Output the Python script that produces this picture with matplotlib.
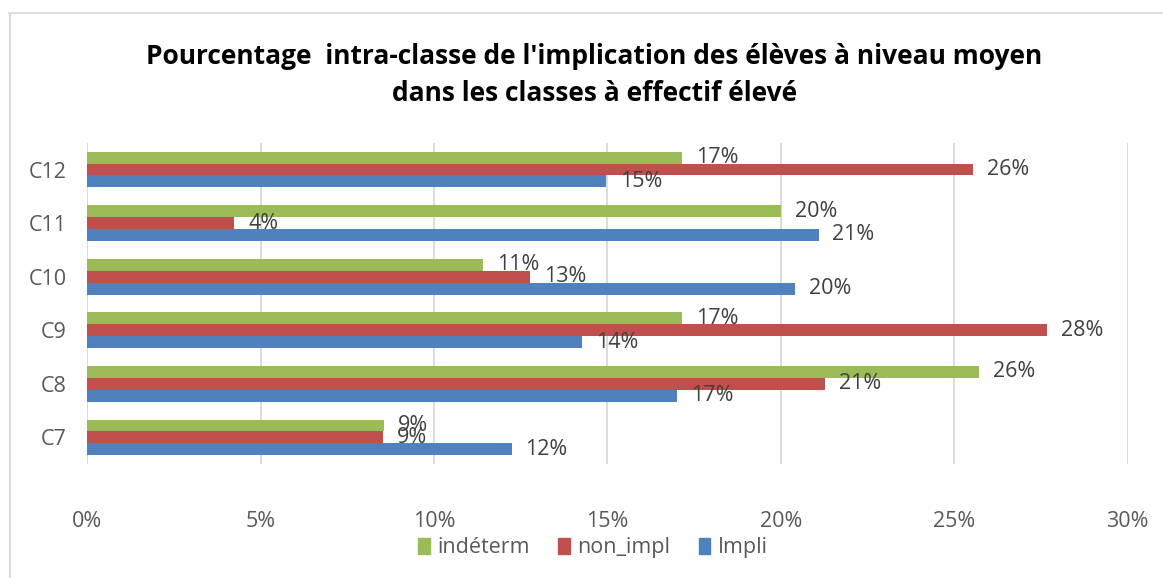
import numpy as np
import matplotlib.pyplot as plt
from matplotlib.lines import Line2D
from matplotlib.patches import Patch

# data (percent)
classes = ['C7', 'C8', 'C9', 'C10', 'C11', 'C12']
impli = [12.24, 17.02, 14.28, 20.41, 21.09, 14.97]
non_impl = [8.52, 21.28, 27.68, 12.76, 4.24, 25.55]
indeterm = [8.57, 25.73, 17.15, 11.42, 20.00, 17.15]

c_impli = '#4F81BD'
c_non = '#C0504D'
c_ind = '#9BBB59'
txt_col = '#404040'

plt.rcParams['font.family'] = ['Open Sans', 'DejaVu Sans']

fig = plt.figure(figsize=(11.63, 5.78), dpi=100)
ax = fig.add_axes([0.075, 0.197, 0.8945, 0.556])

y = np.arange(len(classes))
h = 0.222
ax.barh(y - h, impli, height=h, color=c_impli, zorder=3)
ax.barh(y, non_impl, height=h, color=c_non, zorder=3)
ax.barh(y + h, indeterm, height=h, color=c_ind, zorder=3)

# data labels
for vals, off in [(impli, -h), (non_impl, 0), (indeterm, h)]:
    for i, v in enumerate(vals):
        ax.text(v + 0.4, i + off, f'{round(v):.0f}%', va='center', ha='left',
                fontsize=15.5, color=txt_col, zorder=4)

ax.set_xlim(0, 30)
ax.set_ylim(-0.5, len(classes) - 0.5)
ax.set_xticks(np.arange(0, 31, 5))
ax.set_xticklabels([f'{t}%' for t in range(0, 31, 5)])
ax.set_yticks(y)
ax.set_yticklabels(classes)
ax.tick_params(axis='both', length=0, labelsize=15.5, labelcolor='#595959')
ax.tick_params(axis='x', pad=34)
ax.tick_params(axis='y', pad=15)
ax.grid(axis='x', color='#D9D9D9', linewidth=1.3, zorder=0)
for s in ax.spines.values():
    s.set_visible(False)

fig.text(0.511, 0.903, "Pourcentage  intra-classe de l'implication des élèves à niveau moyen",
         ha='center', va='center', fontsize=19, fontweight='bold', color='black')
fig.text(0.511, 0.838, "dans les classes à effectif élevé",
         ha='center', va='center', fontsize=19, fontweight='bold', color='black')

handles = [Patch(color=c_ind), Patch(color=c_non), Patch(color=c_impli)]
fig.legend(handles, ['indéterm', 'non_impl', 'Impli'], loc='center',
           bbox_to_anchor=(0.51, 0.052), ncol=3, frameon=False, fontsize=15.5,
           labelcolor='#595959', handlelength=0.55, handleheight=0.75,
           handletextpad=0.35, columnspacing=1.3)

# chart border (top and left edges visible)
fig.add_artist(Line2D([9 / 1163, 1], [1 - 12.5 / 578] * 2, color='#D9D9D9', lw=1.2))
fig.add_artist(Line2D([10 / 1163] * 2, [0, 1 - 12.5 / 578], color='#D9D9D9', lw=1.5))

fig.savefig('out.png', dpi=100)
